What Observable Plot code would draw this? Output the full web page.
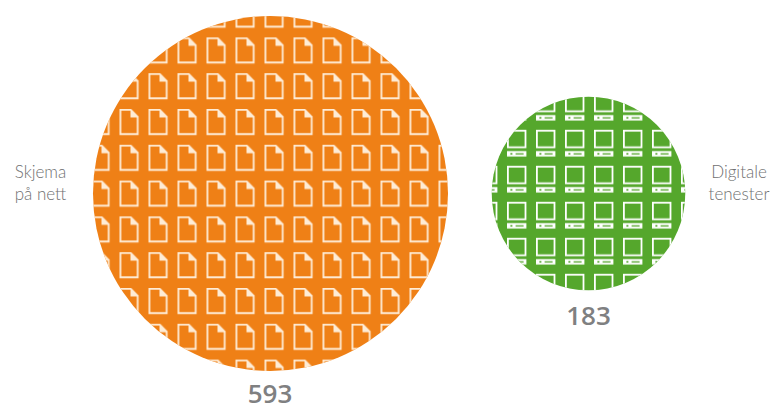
<!DOCTYPE html>
<html>
<head>
<meta charset="utf-8">
<script src="https://cdn.jsdelivr.net/npm/d3@7"></script>
<script src="https://cdn.jsdelivr.net/npm/@observablehq/plot@0.6"></script>
<style>
  html, body { margin: 0; padding: 0; background: #fff; }
  svg { display: block; }
</style>
</head>
<body>
<div id="chart"></div>
<script>
const categories = ["Skjema på nett", "Digitale tenester"];
const values = [593, 183];
const sideLabels = ["Skjema\npå nett", "Digitale\ntenester"];
const colors = ["#ef8016", "#55a72c"];

const rows = categories.map((name, i) => ({name, value: values[i], side: sideLabels[i], color: colors[i]}));
const [forms, services] = [[rows[0]], [rows[1]]];

const dotOptions = {x: "name", r: "value", frameAnchor: "middle"};
const sideText = {
  x: "name", text: "side", frameAnchor: "middle", lineHeight: 1.3,
  fontFamily: "Lato", fontWeight: 300, fontSize: 17, fill: "#6f7071"
};
const valueText = {
  x: "name", text: "value", frameAnchor: "middle",
  fontFamily: "'Open Sans'", fontWeight: 600, fontSize: 26, fill: "#7f8081"
};

const chart = Plot.plot({
  width: 770,
  height: 406,
  marginLeft: 270,
  marginRight: 181.5,
  marginTop: 0,
  marginBottom: 20,
  x: {type: "point", domain: categories, padding: 0, axis: null},
  r: {type: "pow", exponent: 0.516, domain: [0, 593], range: [0, 177.5]},
  marks: [
    Plot.dot(rows, {...dotOptions, fill: "color"}),
    Plot.dot(forms, {...dotOptions, fill: "url(#form-icons)"}),
    Plot.dot(services, {...dotOptions, fill: "url(#screen-icons)"}),
    Plot.text(forms, {...sideText, dx: -230, dy: -12}),
    Plot.text(services, {...sideText, dx: 150.5, dy: -12}),
    Plot.text(forms, {...valueText, dx: -0.5, dy: 201}),
    Plot.text(services, {...valueText, dy: 123.5})
  ]
});

// Repeating icon tiles used as the circles' texture.
const defs = d3.select(chart).insert("defs", ":first-child");

const cream = "#feecd6";
const formTile = defs.append("pattern")
  .attr("id", "form-icons")
  .attr("patternUnits", "userSpaceOnUse")
  .attr("x", 119).attr("y", 144.3)
  .attr("width", 29).attr("height", 35.8);
formTile.append("path")
  .attr("d", "M0.9,0.9H11.4L18.2,7.8V25.1H0.9Z")
  .attr("fill", "none").attr("stroke", cream).attr("stroke-width", 1.8);
formTile.append("path")
  .attr("d", "M11,0.9L18.6,8.4H11Z")
  .attr("fill", cream);

const screenTile = defs.append("pattern")
  .attr("id", "screen-icons")
  .attr("patternUnits", "userSpaceOnUse")
  .attr("x", 535.5).attr("y", 129.3)
  .attr("width", 29).attr("height", 36);
screenTile.append("rect")
  .attr("x", 0.9).attr("y", 0.9).attr("width", 17.6).attr("height", 16.6)
  .attr("fill", "none").attr("stroke", "#fff").attr("stroke-width", 1.8);
screenTile.append("rect")
  .attr("x", 0).attr("y", 21.3).attr("width", 19.4).attr("height", 5.4)
  .attr("fill", "#fff");
screenTile.append("rect")
  .attr("x", 3.4).attr("y", 23.2).attr("width", 2).attr("height", 1.6)
  .attr("fill", "#55a72c");
screenTile.append("rect")
  .attr("x", 8.6).attr("y", 23.4).attr("width", 8).attr("height", 1.3)
  .attr("fill", "#55a72c");

document.getElementById("chart").append(chart);
</script>
</body>
</html>
